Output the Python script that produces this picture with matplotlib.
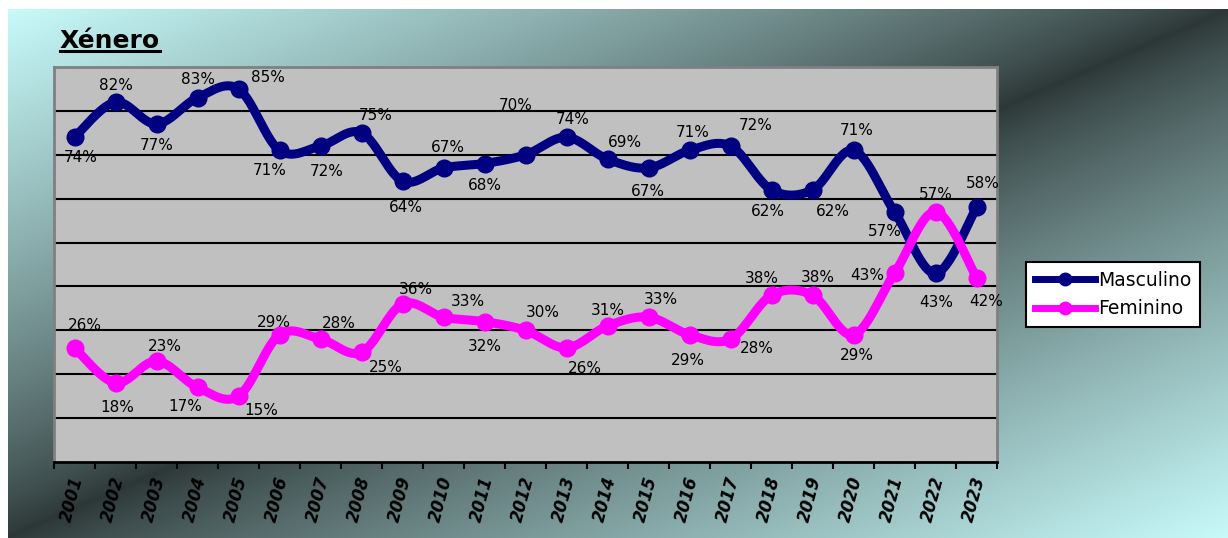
import numpy as np
import matplotlib
matplotlib.use('Agg')
import matplotlib.pyplot as plt
from matplotlib.lines import Line2D
import matplotlib.transforms as mtrans

# ---------------- data ----------------
years = [str(y) for y in range(2001, 2024)]
masculino = [74, 82, 77, 83, 85, 71, 72, 75, 64, 67, 68, 70, 74, 69, 67, 71, 72, 62, 62, 71, 57, 43, 58]
feminino = [26, 18, 23, 17, 15, 29, 28, 25, 36, 33, 32, 30, 26, 31, 33, 29, 28, 38, 38, 29, 43, 57, 42]
series_names = ['Masculino', 'Feminino']
chart_title = 'Xénero'

# data-label offsets (pixels, dx right / dy up) - placement only
masc_label_offsets = [(6, -20), (0, 17), (0, -21), (0, 18), (29, 11), (-10, -20), (6, -25),
                      (14, 17), (3, -26), (4, 20), (0, -22), (-10, 49), (6, 18), (17, 17),
                      (-1, -24), (3, 18), (25, 20), (-4, -22), (20, -22), (3, 20), (-10, -20),
                      (1, -29), (6, 24)]
fem_label_offsets = [(10, 22), (2, -24), (8, 15), (-12, -19), (23, -14), (-6, 12), (18, 16),
                     (24, -15), (13, 15), (24, 16), (0, -25), (17, 18), (18, -21), (0, 15),
                     (12, 18), (-2, -26), (26, -9), (-10, 17), (5, 18), (3, -21), (-27, -2),
                     (0, 17), (10, -24)]

W, H = 1228, 538
fig = plt.figure(figsize=(W / 100, H / 100), dpi=100)
fig.patch.set_facecolor('white')

# ---------------- background gradient ----------------
gx0, gy0 = 8, 9
bg = fig.add_axes([gx0 / W, 0, 1 - gx0 / W, (H - gy0) / H], zorder=0)
xx, yy = np.meshgrid(np.linspace(0, 1, 400), np.linspace(0, 1, 200))
t = (xx + yy) / 2.0
d = np.abs(t - 0.5) * 2
f = d ** 0.8
light = np.array([200, 250, 250]) / 255.0
dark = np.array([44, 54, 54]) / 255.0
img = dark[None, None, :] + (light - dark)[None, None, :] * f[..., None]
bg.imshow(img, aspect='auto', extent=[0, 1, 1, 0], interpolation='bilinear')
bg.set_axis_off()

# ---------------- main axes ----------------
left, right, top, bottom = 54, 997, 67, 462
ax = fig.add_axes([left / W, (H - bottom) / H, (right - left) / W, (bottom - top) / H], zorder=2)
ax.set_facecolor('#C0C0C0')
n = len(years)
x = np.arange(n)
ax.set_xlim(-0.5, n - 0.5)
ax.set_ylim(0, 90)

for yv in range(10, 90, 10):
    ax.axhline(yv, color='black', lw=1.5, zorder=1)

for side in ['left', 'top', 'right']:
    ax.spines[side].set_color('#808080')
    ax.spines[side].set_linewidth(2)
ax.spines['bottom'].set_color('black')
ax.spines['bottom'].set_linewidth(2)
ax.set_yticks([])


def smooth(xs, ys, k=30):
    P = np.column_stack([xs, ys]).astype(float)
    m = len(P)
    out = []
    for i in range(m - 1):
        p0 = P[max(i - 1, 0)]
        p1 = P[i]
        p2 = P[i + 1]
        p3 = P[min(i + 2, m - 1)]
        b1 = p1 + (p2 - p0) / 6.0
        b2 = p2 - (p3 - p1) / 6.0
        tt = np.linspace(0, 1, k)[:, None]
        seg = ((1 - tt) ** 3) * p1 + 3 * ((1 - tt) ** 2) * tt * b1 + 3 * (1 - tt) * tt ** 2 * b2 + tt ** 3 * p2
        if i > 0:
            seg = seg[1:]
        out.append(seg)
    out = np.vstack(out)
    return out[:, 0], out[:, 1]


colors = ['#000080', '#FF00FF']
for vals, col, name, offs, z in [(masculino, colors[0], series_names[0], masc_label_offsets, 3),
                                 (feminino, colors[1], series_names[1], fem_label_offsets, 4)]:
    sx, sy = smooth(x, vals)
    ax.plot(sx, sy, color=col, lw=6.5, solid_capstyle='round', solid_joinstyle='round', zorder=z)
    ax.plot(x, vals, 'o', color=col, ms=12, zorder=z)
    for xi, v, (dx, dy) in zip(x, vals, offs):
        ax.annotate(f'{v}%', (xi, v), xytext=(dx, dy), textcoords='offset pixels',
                    ha='center', va='center', fontsize=11, color='black', zorder=6)

# x ticks
ax.set_xticks(x)
ax.set_xticks(np.arange(-0.5, n, 1.0), minor=True)
ax.tick_params(axis='x', which='major', length=0, pad=11)
ax.tick_params(axis='x', which='minor', length=5, width=1.5, color='black', direction='out')
ax.set_xticklabels(years, rotation=75, ha='right', va='center', rotation_mode='anchor',
                   fontsize=12, fontweight='bold', fontstyle='italic')
shift = mtrans.ScaledTranslation(4 / 100, 0, fig.dpi_scale_trans)
for lab in ax.get_xticklabels():
    lab.set_transform(lab.get_transform() + shift)

# legend
handles = [Line2D([], [], color=colors[0], lw=5, marker='o', ms=9),
           Line2D([], [], color=colors[1], lw=5, marker='o', ms=9)]
leg = fig.legend(handles, series_names, loc='center', bbox_to_anchor=(1113 / W, 1 - 294.5 / H),
                 fontsize=13.5, frameon=True, fancybox=False, framealpha=1, edgecolor='black',
                 handlelength=3.2, handletextpad=0.2, borderpad=0.45, labelspacing=0.5,
                 numpoints=1)
leg.get_frame().set_linewidth(1.5)
leg.set_zorder(5)

# title with underline
tt = fig.text(60 / W, 1 - 48 / H, chart_title, fontsize=18, fontweight='bold', ha='left',
              va='baseline', color='black', zorder=5)
fig.canvas.draw()
bb = tt.get_window_extent()
fig.add_artist(Line2D([bb.x0 / W, bb.x1 / W], [(1 - 51 / H), (1 - 51 / H)],
                      transform=fig.transFigure, color='black', lw=2.2, zorder=5))

fig.savefig('out.png', dpi=100)
